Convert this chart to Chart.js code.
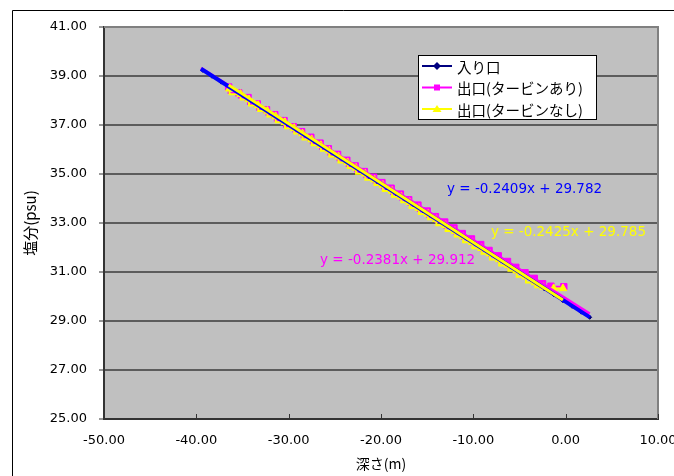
<!DOCTYPE html>
<html>
<head>
<meta charset="utf-8">
<script src="https://cdn.jsdelivr.net/npm/chart.js@4/dist/chart.umd.min.js"></script>
<style>
  html, body { margin: 0; padding: 0; background: #ffffff; }
  canvas { display: block; }
</style>
</head>
<body>
<canvas id="c" width="674" height="476"></canvas>
<script>
// Series names
const seriesNames = ['入り口', '出口(タービンあり)', '出口(タービンなし)'];

// 入り口: depth (m) and salinity (psu)
const inletDepth = [-39.3, -38.3, -37.3, -36.3, -35.3, -34.3, -33.3, -32.3, -31.3, -30.3,
  -29.3, -28.3, -27.3, -26.3, -25.3, -24.3, -23.3, -22.3, -21.3, -20.3,
  -19.3, -18.3, -17.3, -16.3, -15.3, -14.3, -13.3, -12.3, -11.3, -10.3,
  -9.3, -8.3, -7.3, -6.3, -5.3, -4.3, -3.3, -2.3, -1.3, -0.3, 0.7, 1.7, 2.6];
const inletSal = [39.23, 38.99, 38.75, 38.50, 38.26, 38.00, 37.76, 37.52, 37.28, 37.04,
  36.80, 36.56, 36.32, 36.08, 35.84, 35.60, 35.36, 35.11, 34.87, 34.63,
  34.39, 34.15, 33.91, 33.67, 33.43, 33.19, 32.95, 32.71, 32.46, 32.22,
  31.98, 31.74, 31.50, 31.26, 31.02, 30.78, 30.54, 30.31, 30.08, 29.83, 29.60, 29.36, 29.15];

// 出口(タービンあり)
const turbineOnDepth = [-36.5, -35.4, -34.4, -33.4, -32.4, -31.5, -30.5, -29.5, -28.6, -27.6,
  -26.6, -25.7, -24.7, -23.7, -22.8, -21.8, -20.8, -19.9, -18.9, -17.9,
  -17.0, -16.0, -15.0, -14.1, -13.1, -12.1, -11.2, -10.2, -9.2, -8.3,
  -7.3, -6.3, -5.4, -4.4, -3.4, -2.5, -1.6, -0.2];
const turbineOnSal = [38.55, 38.31, 38.12, 37.86, 37.62, 37.42, 37.18, 36.93, 36.73, 36.50,
  36.26, 36.03, 35.80, 35.56, 35.33, 35.10, 34.87, 34.65, 34.42, 34.18,
  33.95, 33.73, 33.49, 33.26, 33.04, 32.80, 32.57, 32.35, 32.12, 31.88,
  31.66, 31.43, 31.19, 30.97, 30.74, 30.52, 30.42, 30.40];

// 出口(タービンなし)
const turbineOffDepth = [-36.4, -35.2, -34.3, -33.3, -32.3, -31.4, -30.4, -29.4, -28.5, -27.5,
  -26.5, -25.6, -24.6, -23.6, -22.7, -21.7, -20.7, -19.8, -18.8, -17.8,
  -16.9, -15.9, -14.9, -14.0, -13.0, -12.0, -11.1, -10.1, -9.1, -8.2,
  -7.2, -6.2, -5.3, -4.3, -3.3, -2.4, -1.3, -0.3];
const turbineOffSal = [38.48, 38.26, 38.04, 37.80, 37.57, 37.35, 37.11, 36.87, 36.65, 36.41,
  36.17, 35.95, 35.71, 35.47, 35.25, 35.01, 34.77, 34.55, 34.31, 34.07,
  33.85, 33.61, 33.37, 33.15, 32.91, 32.67, 32.45, 32.21, 31.97, 31.75,
  31.51, 31.27, 31.05, 30.81, 30.57, 30.38, 30.33, 30.33];

// Linear trendlines (y = slope * x + intercept) for each series, and their x spans
const trendSlope = [-0.2409, -0.2381, -0.2425];
const trendIntercept = [29.782, 29.912, 29.785];
const trendFrom = [-39.5, -39.5, -36.5];
const trendTo = [2.6, 2.6, -0.3];
// Where each equation label sits, in data units (depth, salinity)
const labelAtX = [-12.85, -26.6, -8.1];
const labelAtY = [34.35, 31.45, 32.63];

// Tick values
const xTicks = [-50, -40, -30, -20, -10, 0, 10];
const yTicks = [25, 27, 29, 31, 33, 35, 37, 39, 41];

const seriesColors = ['#000080', '#FF00FF', '#FFFF00'];
const trendColors = ['#0000FF', '#FF00FF', '#FFFF00'];
const pointStyles = ['rectRot', 'rect', 'triangle'];

const toPoints = (xs, ys) => xs.map((x, i) => ({ x: x, y: ys[i] }));
const trendPoints = i => [trendFrom[i], trendTo[i]].map(x => ({
  x: x, y: +(trendSlope[i] * x + trendIntercept[i]).toFixed(4)
}));
const eqText = i => 'y = ' + trendSlope[i].toFixed(4) + 'x + ' + trendIntercept[i].toFixed(3);

const JP = '"Noto Sans CJK JP", "Noto Sans", sans-serif';
const NUM = '"DejaVu Sans", sans-serif';

// Backgrounds, frame, plot border, equations and legend
const decor = {
  id: 'decor',
  beforeDraw(chart) {
    const { ctx, chartArea: a } = chart;
    ctx.save();
    ctx.fillStyle = '#ffffff';
    ctx.fillRect(0, 0, chart.width, chart.height);
    ctx.strokeStyle = '#000000';
    ctx.lineWidth = 1;
    ctx.beginPath();
    ctx.moveTo(12.5, chart.height + 5);
    ctx.lineTo(12.5, 10.5);
    ctx.lineTo(chart.width + 5, 10.5);
    ctx.stroke();
    ctx.fillStyle = '#C0C0C0';
    ctx.fillRect(a.left, a.top, a.right - a.left, a.bottom - a.top);
    ctx.restore();
  },
  beforeDatasetsDraw(chart) {
    const { ctx, chartArea: a, scales } = chart;
    ctx.save();
    ctx.strokeStyle = '#808080';
    ctx.lineWidth = 2;
    ctx.beginPath();
    ctx.moveTo(a.left, a.top);
    ctx.lineTo(a.right, a.top);
    ctx.lineTo(a.right, a.bottom);
    ctx.stroke();
    // x tick marks pointing into the plot
    ctx.strokeStyle = '#333333';
    ctx.lineWidth = 1;
    xTicks.forEach(v => {
      const px = Math.round(scales.x.getPixelForValue(v)) + 0.5;
      ctx.beginPath();
      ctx.moveTo(px, a.bottom);
      ctx.lineTo(px, a.bottom - 5);
      ctx.stroke();
    });
    ctx.restore();
  },
  afterDatasetsDraw(chart) {
    const { ctx, scales } = chart;
    ctx.save();
    // trendline equations
    ctx.font = '13.5px ' + NUM;
    ctx.textBaseline = 'middle';
    ctx.textAlign = 'left';
    [0, 1, 2].forEach(i => {
      ctx.fillStyle = trendColors[i];
      ctx.fillText(eqText(i), scales.x.getPixelForValue(labelAtX[i]), scales.y.getPixelForValue(labelAtY[i]));
    });
    // legend
    const bx = 418.5, by = 55.5, bw = 178, bh = 64;
    ctx.fillStyle = '#ffffff';
    ctx.fillRect(bx, by, bw, bh);
    ctx.strokeStyle = '#000000';
    ctx.lineWidth = 1;
    ctx.strokeRect(bx, by, bw, bh);
    ctx.font = '14.5px ' + JP;
    seriesNames.forEach((name, i) => {
      const y = 66 + i * 21.5;
      ctx.strokeStyle = seriesColors[i];
      ctx.lineWidth = 2;
      ctx.beginPath();
      ctx.moveTo(422, y);
      ctx.lineTo(452, y);
      ctx.stroke();
      ctx.fillStyle = seriesColors[i];
      ctx.beginPath();
      if (i === 0) {
        ctx.moveTo(437, y - 4); ctx.lineTo(441, y); ctx.lineTo(437, y + 4); ctx.lineTo(433, y);
      } else if (i === 1) {
        ctx.rect(434, y - 3, 6, 6);
      } else {
        ctx.moveTo(437, y - 4); ctx.lineTo(441.5, y + 3); ctx.lineTo(432.5, y + 3);
      }
      ctx.closePath();
      ctx.fill();
      ctx.fillStyle = '#000000';
      ctx.fillText(name, 457, y + 1);
    });
    ctx.restore();
  }
};

new Chart(document.getElementById('c'), {
  type: 'scatter',
  data: {
    datasets: [
      {
        label: seriesNames[0], data: toPoints(inletDepth, inletSal), showLine: true,
        borderColor: seriesColors[0], backgroundColor: seriesColors[0], borderWidth: 1.5,
        pointStyle: pointStyles[0], pointRadius: 2, pointBorderWidth: 1, order: 5
      },
      {
        label: seriesNames[1], data: toPoints(turbineOnDepth, turbineOnSal), showLine: true, stepped: 'after',
        borderColor: seriesColors[1], backgroundColor: seriesColors[1], borderWidth: 2,
        pointStyle: pointStyles[1], pointRadius: 4.5, pointBorderWidth: 1, order: 4
      },
      {
        label: seriesNames[2], data: toPoints(turbineOffDepth, turbineOffSal), showLine: true, stepped: 'after',
        borderColor: seriesColors[2], backgroundColor: seriesColors[2], borderWidth: 2,
        pointStyle: pointStyles[2], pointRadius: 4.5, pointBorderWidth: 1, order: 3
      },
      {
        label: 'trend0', data: trendPoints(0), showLine: true, borderColor: trendColors[0],
        borderWidth: 4, pointRadius: 0, order: 1
      },
      {
        label: 'trend1', data: trendPoints(1), showLine: true, borderColor: trendColors[1],
        borderWidth: 3, pointRadius: 0, order: 2
      },
      {
        label: 'trend2', data: trendPoints(2), showLine: true, borderColor: trendColors[2],
        borderWidth: 3, pointRadius: 0, order: 0
      }
    ]
  },
  options: {
    responsive: false,
    animation: false,
    devicePixelRatio: 1,
    layout: { padding: { left: 0, top: 27, right: 16, bottom: 0 } },
    plugins: { legend: { display: false }, tooltip: { enabled: false } },
    scales: {
      x: {
        type: 'linear', min: -50, max: 10,
        afterBuildTicks: s => { s.ticks = xTicks.map(v => ({ value: v })); },
        afterFit: s => { s.height = 57; s.paddingLeft = 0; s.paddingRight = 0; },
        grid: { display: true, drawOnChartArea: false, drawTicks: false },
        border: { display: true, color: '#333333', width: 2 },
        ticks: {
          padding: 14, color: '#000000', maxRotation: 0, autoSkip: false,
          font: { family: NUM, size: 13 },
          callback: v => Number(v).toFixed(2)
        },
        title: {
          display: true, text: '深さ(m)', color: '#000000',
          font: { family: JP, size: 14 }, padding: { top: 0, bottom: 4 }
        }
      },
      y: {
        type: 'linear', min: 25, max: 41,
        afterBuildTicks: s => { s.ticks = yTicks.map(v => ({ value: v })); },
        afterFit: s => { s.width = 104; s.paddingTop = 0; s.paddingBottom = 0; },
        grid: { color: '#5c5c5c', lineWidth: 2, tickLength: 5, tickColor: '#333333', tickWidth: 1 },
        border: { display: true, color: '#333333', width: 2 },
        ticks: {
          padding: 12, color: '#000000', autoSkip: false,
          font: { family: NUM, size: 13 },
          callback: v => Number(v).toFixed(2)
        },
        title: {
          display: true, text: '塩分(psu)', color: '#000000',
          font: { family: JP, size: 15 }, padding: { top: 21, bottom: 0 }
        }
      }
    }
  },
  plugins: [decor]
});
</script>
</body>
</html>
